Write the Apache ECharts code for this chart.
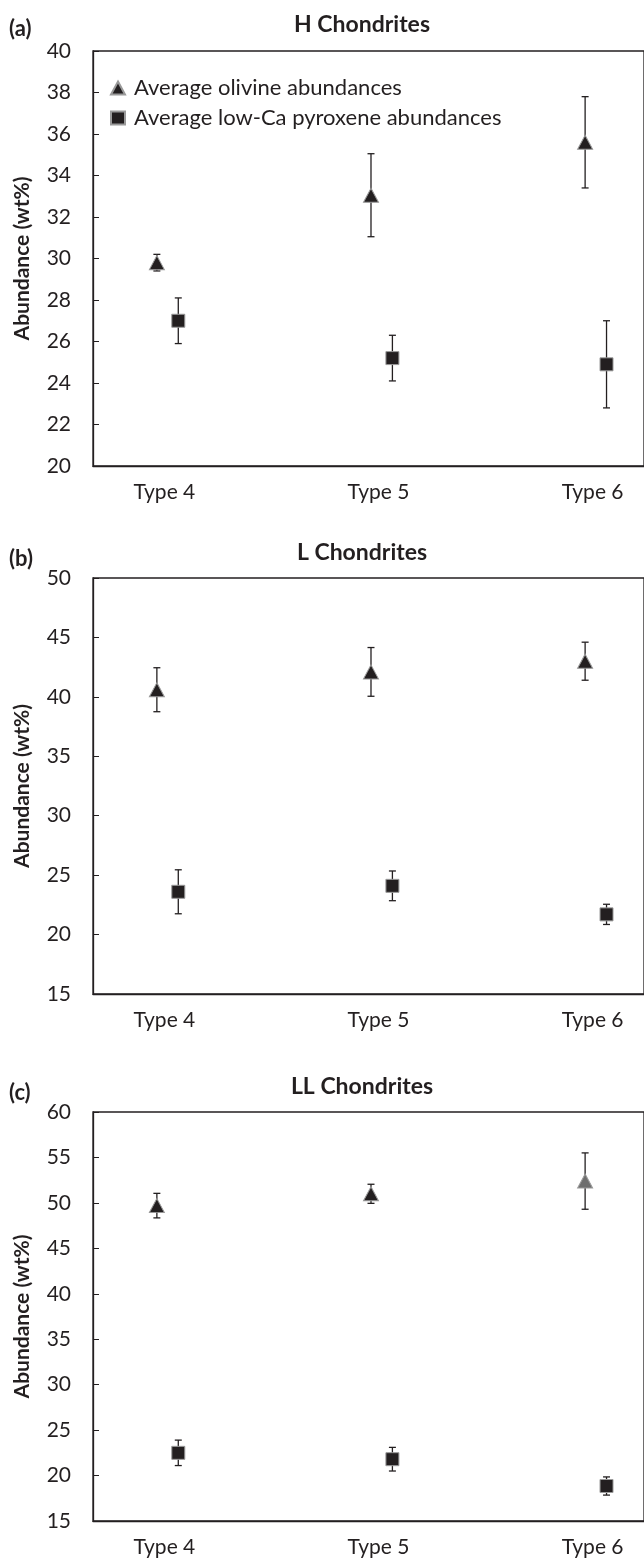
<!DOCTYPE html>
<html>
<head>
<meta charset="utf-8">
<script src="https://cdn.jsdelivr.net/npm/echarts@6/dist/echarts.min.js"></script>
<style>
html,body{margin:0;padding:0;background:#fff;}
#main{width:644px;height:1558px;}
</style>
</head>
<body>
<div id="main"></div>
<script>
// categories + panel text
var categories = ['Type 4', 'Type 5', 'Type 6'];
var panelTitles = ['H Chondrites', 'L Chondrites', 'LL Chondrites'];
var panelTags = ['(a)', '(b)', '(c)'];
var seriesNames = ['Average olivine abundances', 'Average low-Ca pyroxene abundances'];

// H chondrites
var olivineH = [29.8, 33.05, 35.6];
var olivineHErr = [0.4, 2.0, 2.2];
var pyroxeneH = [27.0, 25.2, 24.9];
var pyroxeneHErr = [1.1, 1.1, 2.1];
// L chondrites
var olivineL = [40.6, 42.1, 43.0];
var olivineLErr = [1.85, 2.05, 1.6];
var pyroxeneL = [23.6, 24.1, 21.7];
var pyroxeneLErr = [1.85, 1.25, 0.85];
// LL chondrites
var olivineLL = [49.7, 51.0, 52.4];
var olivineLLErr = [1.35, 1.05, 3.1];
var pyroxeneLL = [22.5, 21.8, 18.85];
var pyroxeneLLErr = [1.4, 1.3, 1.0];

// y axis ticks per panel
var yMin = [20, 15, 15];
var yMax = [40, 50, 60];
var yStep = [2, 5, 5];

var olivine = [olivineH, olivineL, olivineLL];
var olivineErr = [olivineHErr, olivineLErr, olivineLLErr];
var pyroxene = [pyroxeneH, pyroxeneL, pyroxeneLL];
var pyroxeneErr = [pyroxeneHErr, pyroxeneLErr, pyroxeneLLErr];

var FONT = 'Lato, "Open Sans", sans-serif';
var INK = '#231f20';
var gridTop = [51, 578, 1112];
var gridHeight = [415, 416, 409];
var tagY = [29, 559, 1093];
var titleY = [25, 553, 1087];

function errorBarItem(params, api) {
    var x = api.value(0);
    var lo = api.coord([x, api.value(1)]);
    var hi = api.coord([x, api.value(2)]);
    var half = 3.5;
    var style = {stroke: INK, lineWidth: 1.3};
    return {type: 'group', children: [
        {type: 'line', shape: {x1: lo[0], y1: lo[1], x2: hi[0], y2: hi[1]}, style: style},
        {type: 'line', shape: {x1: lo[0] - half, y1: lo[1], x2: lo[0] + half, y2: lo[1]}, style: style},
        {type: 'line', shape: {x1: hi[0] - half, y1: hi[1], x2: hi[0] + half, y2: hi[1]}, style: style}
    ]};
}

var grids = [], xAxes = [], yAxes = [], series = [], graphics = [];
for (var p = 0; p < 3; p++) {
    grids.push({
        left: 93, width: 556, top: gridTop[p], height: gridHeight[p],
        show: true, borderColor: INK, borderWidth: 1.3, backgroundColor: 'transparent'
    });
    xAxes.push({
        type: 'value', gridIndex: p, min: 0.6667, max: 3.24,
        splitLine: {show: false}, axisTick: {show: false},
        axisLine: {show: true, onZero: false, lineStyle: {color: INK, width: 1.3}},
        axisLabel: {
            customValues: [1, 2, 3], margin: 16, fontSize: 21, color: INK, fontFamily: FONT,
            formatter: function (v) { return categories[Math.round(v) - 1]; }
        }
    });
    yAxes.push({
        type: 'value', gridIndex: p, min: yMin[p], max: yMax[p], interval: yStep[p],
        splitLine: {show: false},
        axisTick: {show: true, inside: true, length: 6, lineStyle: {color: INK}},
        axisLine: {show: true, lineStyle: {color: INK, width: 1.3}},
        axisLabel: {fontSize: 21, color: INK, margin: 22, fontFamily: FONT},
        name: 'Abundance (wt%)', nameLocation: 'middle', nameGap: 60,
        nameTextStyle: {fontSize: 21, fontWeight: 'bold', color: INK, fontFamily: FONT}
    });

    var olErr = [], pxErr = [], olPts = [], pxPts = [];
    for (var i = 0; i < categories.length; i++) {
        var xo = i + 1 - 0.035, xp = i + 1 + 0.065;
        olErr.push([xo, olivine[p][i] - olivineErr[p][i], olivine[p][i] + olivineErr[p][i]]);
        pxErr.push([xp, pyroxene[p][i] - pyroxeneErr[p][i], pyroxene[p][i] + pyroxeneErr[p][i]]);
        var ol = {value: [xo, olivine[p][i]]};
        if (p == 2 && i == 2) ol.itemStyle = {color: '#6e6e6e'}; // grey marker in LL type 6
        olPts.push(ol);
        pxPts.push([xp, pyroxene[p][i]]);
    }
    series.push({type: 'custom', xAxisIndex: p, yAxisIndex: p, renderItem: errorBarItem,
        encode: {x: 0, y: [1, 2]}, data: olErr, z: 2, silent: true});
    series.push({type: 'custom', xAxisIndex: p, yAxisIndex: p, renderItem: errorBarItem,
        encode: {x: 0, y: [1, 2]}, data: pxErr, z: 2, silent: true});
    series.push({type: 'scatter', name: seriesNames[0], xAxisIndex: p, yAxisIndex: p,
        symbol: 'triangle', symbolSize: [15, 14], z: 3,
        itemStyle: {color: INK, borderColor: '#9a9a9a', borderWidth: 1, opacity: 1},
        data: olPts});
    series.push({type: 'scatter', name: seriesNames[1], xAxisIndex: p, yAxisIndex: p,
        symbol: 'rect', symbolSize: 13, z: 3,
        itemStyle: {color: INK, borderColor: '#9a9a9a', borderWidth: 1, opacity: 1},
        data: pxPts});

    graphics.push({type: 'text', x: 9, y: tagY[p],
        style: {text: panelTags[p], fill: INK, font: 'bold 22px ' + FONT, verticalAlign: 'middle'}});
    graphics.push({type: 'text', x: 362, y: titleY[p],
        style: {text: panelTitles[p], fill: INK, font: 'bold 23px ' + FONT, align: 'center', verticalAlign: 'middle'}});
}

var myChart = echarts.init(document.getElementById('main'));
myChart.setOption({
    backgroundColor: '#fff',
    animation: false,
    grid: grids,
    xAxis: xAxes,
    yAxis: yAxes,
    legend: {
        data: seriesNames, orient: 'vertical', left: 105, top: 72,
        itemWidth: 14, itemHeight: 13, itemGap: 8, selectedMode: false,
        textStyle: {fontSize: 22, color: INK, fontFamily: FONT, padding: [0, 0, 0, 4]}
    },
    graphic: graphics,
    series: series
});
</script>
</body>
</html>
